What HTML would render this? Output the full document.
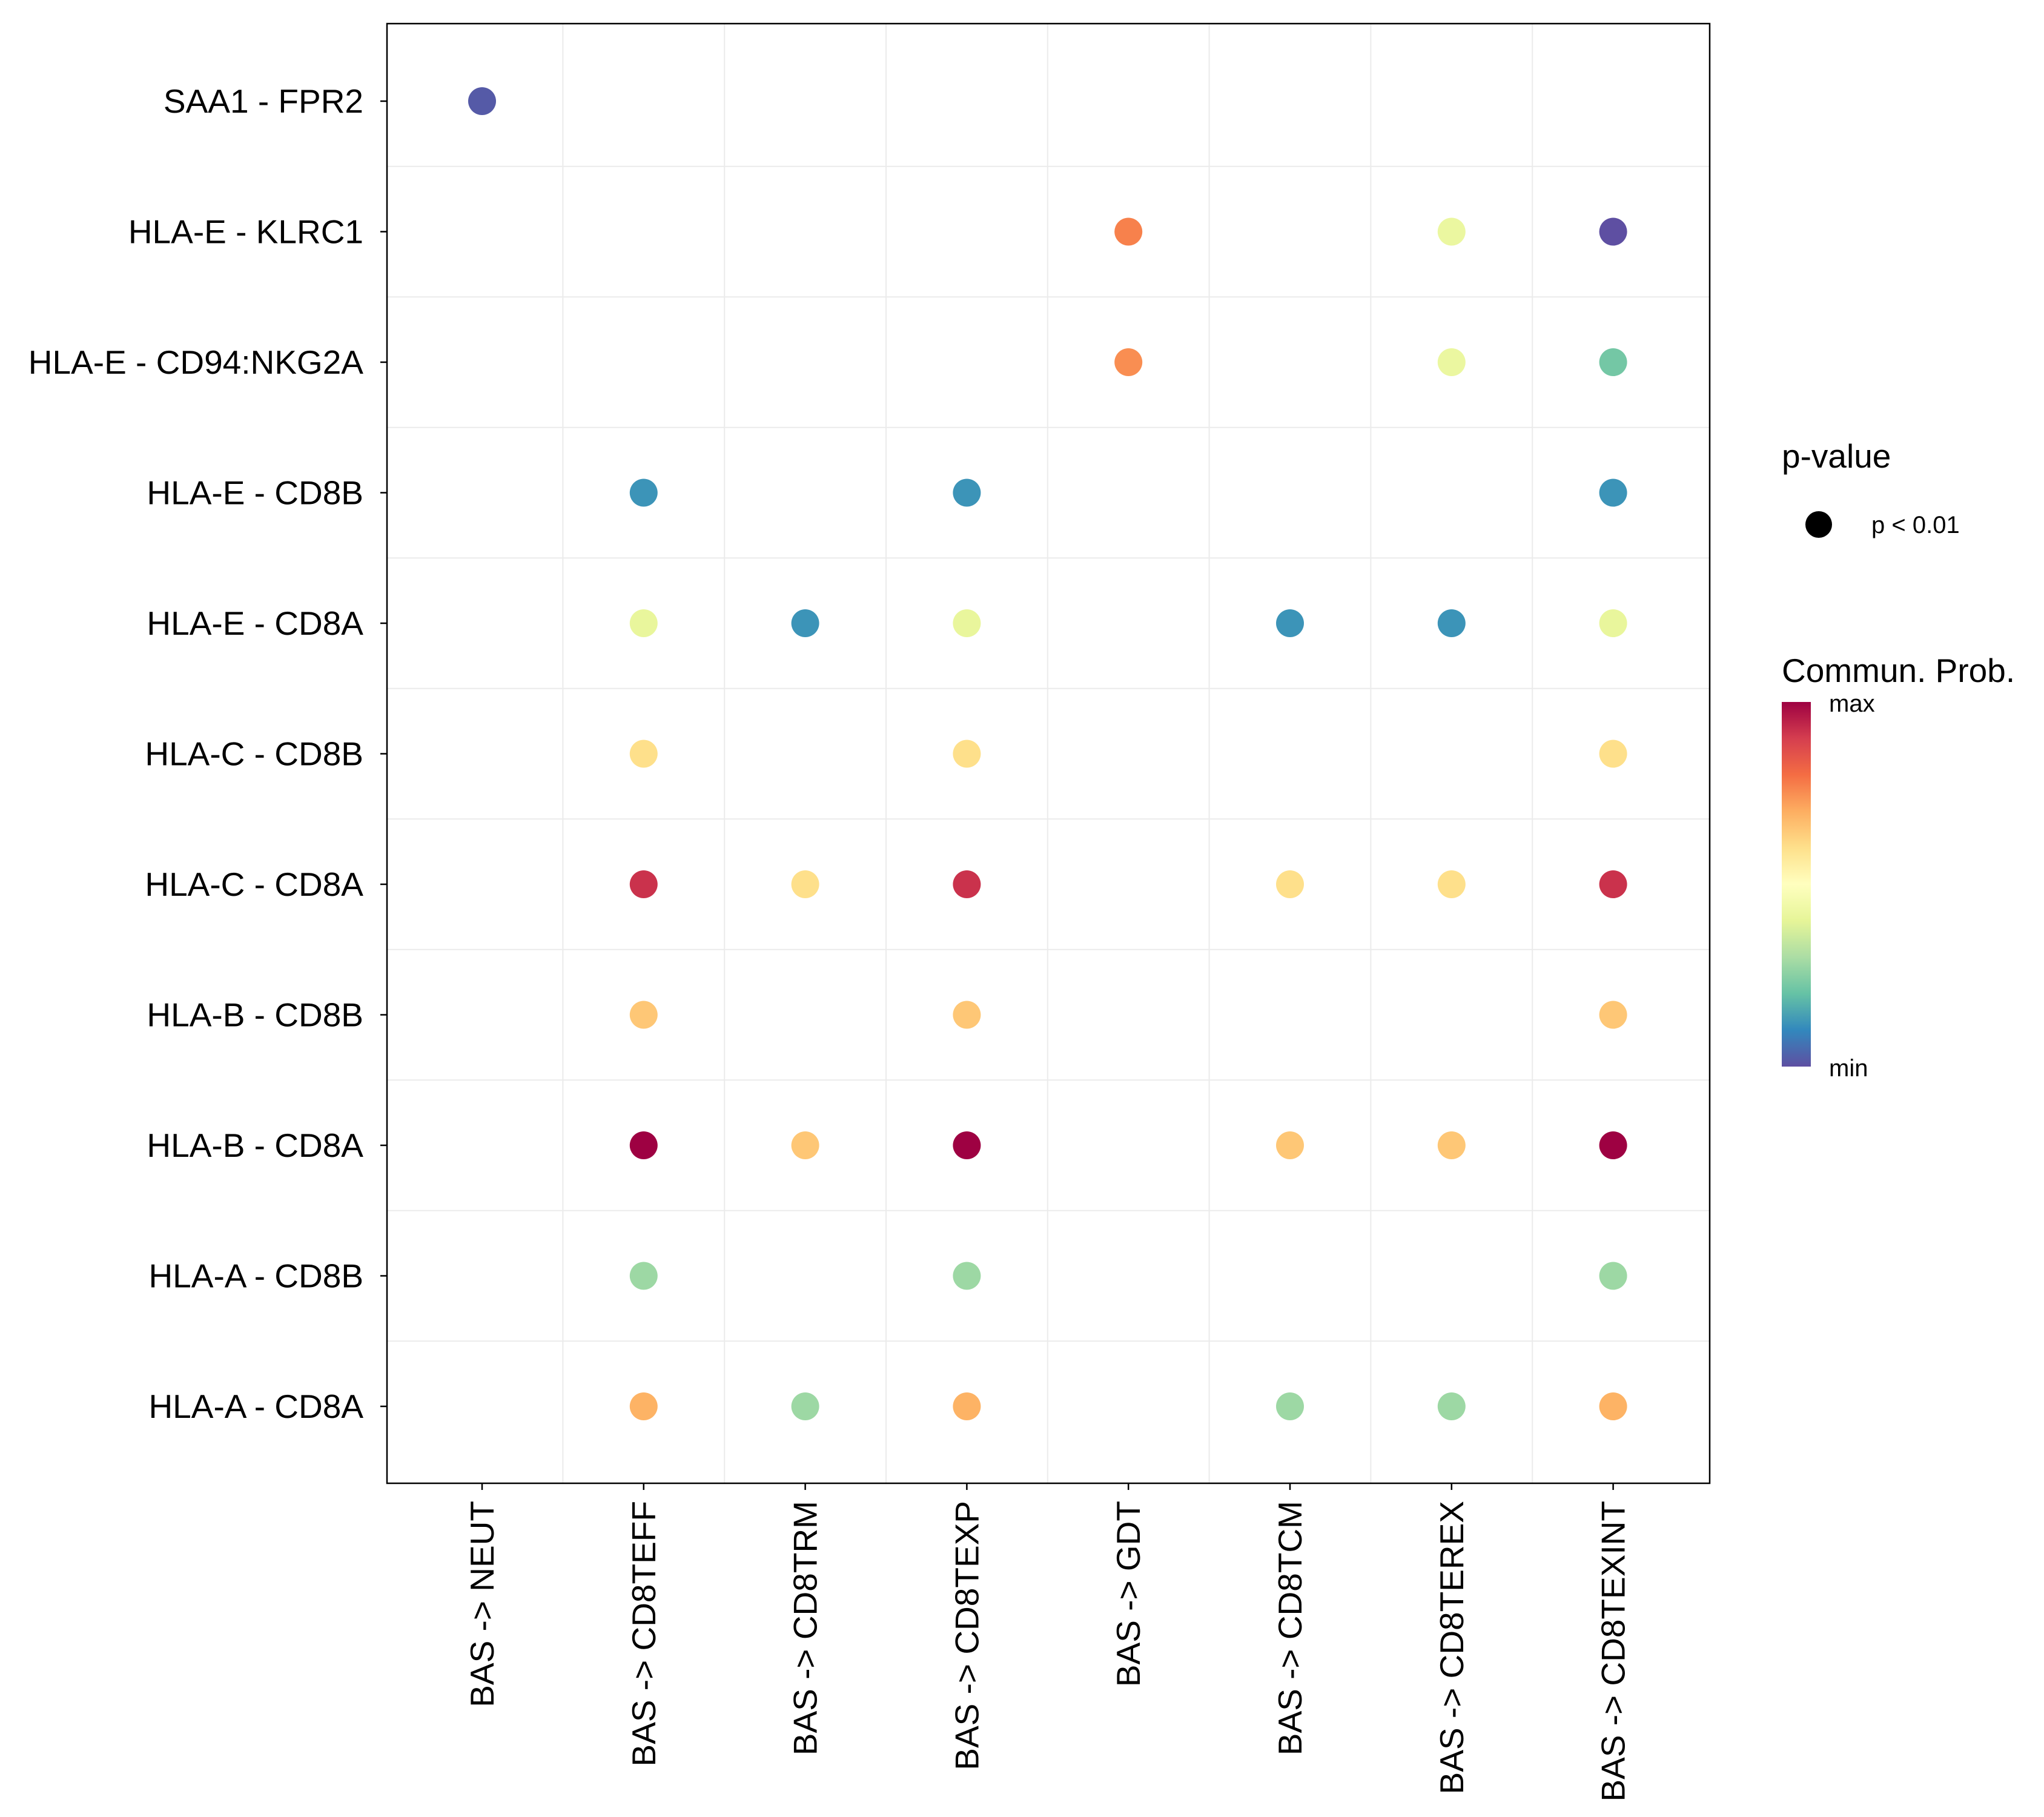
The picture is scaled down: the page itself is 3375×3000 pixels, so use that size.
<!DOCTYPE html>
<html><head><meta charset="utf-8"><style>
html,body{margin:0;padding:0;background:#fff;}
svg{display:block;font-family:"Liberation Sans",Arial,sans-serif;}
</style></head><body>
<svg id="chart" width="3375" height="3000" viewBox="0 0 3375 3000" xmlns="http://www.w3.org/2000/svg">
<defs>
<linearGradient id="spec" x1="0" y1="1" x2="0" y2="0">
<stop offset="0" stop-color="#5E4FA2"/><stop offset="0.1" stop-color="#3288BD"/><stop offset="0.2" stop-color="#66C2A5"/><stop offset="0.3" stop-color="#ABDDA4"/><stop offset="0.4" stop-color="#E6F598"/><stop offset="0.5" stop-color="#FFFFBF"/><stop offset="0.6" stop-color="#FEE08B"/><stop offset="0.7" stop-color="#FDAE61"/><stop offset="0.8" stop-color="#F46D43"/><stop offset="0.9" stop-color="#D53E4F"/><stop offset="1" stop-color="#9E0142"/>
</linearGradient>
</defs>
<g id="grid"></g>
<g id="dots"></g>
<rect x="639" y="39" width="2184" height="2410" fill="none" stroke="#000" stroke-width="2.5"/>
<g id="yaxis"></g>
<g id="xaxis"></g>
<g>
<text x="2942" y="772" font-size="55">p-value</text>
<circle cx="3003" cy="866" r="22" fill="#000"/>
<text x="3090" y="880" font-size="40">p &lt; 0.01</text>
</g>
<g>
<text x="2942" y="1126" font-size="55">Commun. Prob.</text>
<rect x="2942" y="1159" width="48" height="602" fill="url(#spec)"/>
<text x="3020" y="1175" font-size="40">max</text>
<text x="3020" y="1777" font-size="40">min</text>
</g>
</svg>
<script>
const cols = ["BAS -> NEUT","BAS -> CD8TEFF","BAS -> CD8TRM","BAS -> CD8TEXP","BAS -> GDT","BAS -> CD8TCM","BAS -> CD8TEREX","BAS -> CD8TEXINT"];
const rows = ["SAA1 - FPR2","HLA-E - KLRC1","HLA-E - CD94:NKG2A","HLA-E - CD8B","HLA-E - CD8A","HLA-C - CD8B","HLA-C - CD8A","HLA-B - CD8B","HLA-B - CD8A","HLA-A - CD8B","HLA-A - CD8A"];
const pointRow = [0,1,1,1,2,2,2,3,3,3,4,4,4,4,4,4,5,5,5,6,6,6,6,6,6,7,7,7,8,8,8,8,8,8,9,9,9,10,10,10,10,10,10];
const pointCol = [0,4,6,7,4,6,7,1,3,7,1,2,3,5,6,7,1,3,7,1,2,3,5,6,7,1,3,7,1,2,3,5,6,7,1,3,7,1,2,3,5,6,7];
const pointVal = [0.02,0.77,0.42,0.0,0.75,0.42,0.22,0.12,0.12,0.12,0.41,0.12,0.41,0.12,0.12,0.41,0.6,0.6,0.6,0.92,0.6,0.92,0.6,0.6,0.92,0.65,0.65,0.65,1.0,0.65,1.0,0.65,0.65,1.0,0.28,0.28,0.28,0.69,0.28,0.69,0.28,0.28,0.69];

const NS="http://www.w3.org/2000/svg";
const X0=796, DX=266.8, Y0=167, DY=215.5;
const xs = i => X0 + i*DX;
const ys = j => Y0 + j*DY;
const pal=["#5E4FA2","#3288BD","#66C2A5","#ABDDA4","#E6F598","#FFFFBF","#FEE08B","#FDAE61","#F46D43","#D53E4F","#9E0142"];
function color(v){
  const t=Math.max(0,Math.min(1,v))*10, i=Math.min(9,Math.floor(t)), f=t-i;
  const a=pal[i],b=pal[i+1];
  const c=k=>Math.round(parseInt(a.substr(1+2*k,2),16)*(1-f)+parseInt(b.substr(1+2*k,2),16)*f);
  return `rgb(${c(0)},${c(1)},${c(2)})`;
}
function mk(tag,attrs,parent){const e=document.createElementNS(NS,tag);for(const k in attrs)e.setAttribute(k,attrs[k]);parent.appendChild(e);return e;}
const grid=document.getElementById('grid');
for(let i=0;i<cols.length-1;i++){
  const l=mk('line',{x1:xs(i+0.5),x2:xs(i+0.5),y1:39,y2:2449,stroke:'#ebebeb','stroke-width':2},grid);
  
  
}
for(let j=0;j<rows.length-1;j++){
  const l=mk('line',{x1:639,x2:2823,y1:ys(j+0.5),y2:ys(j+0.5),stroke:'#ebebeb','stroke-width':2},grid);
  
  
}
const ya=document.getElementById('yaxis');
rows.forEach((r,j)=>{
  const t=mk('line',{x1:628,x2:639,y1:ys(j),y2:ys(j),stroke:'#000','stroke-width':2.5},ya);
  
  
  const tx=mk('text',{x:600,y:ys(j)+19,'text-anchor':'end','font-size':55},ya);
  tx.textContent=r;
  
  
});
const xa=document.getElementById('xaxis');
cols.forEach((c,i)=>{
  const t=mk('line',{x1:xs(i),x2:xs(i),y1:2449,y2:2460,stroke:'#000','stroke-width':2.5},xa);
  
  
  const tx=mk('text',{x:0,y:0,'text-anchor':'end','font-size':55,transform:`translate(${xs(i)+19},2478) rotate(-90)`},xa);
  tx.textContent=c;
  
  
});
const dots=document.getElementById('dots');
pointVal.forEach((v,k)=>{
  const c=mk('circle',{cx:xs(pointCol[k]),cy:ys(pointRow[k]),r:23,fill:color(v)},dots);
  
  
});
</script>
</body></html>
